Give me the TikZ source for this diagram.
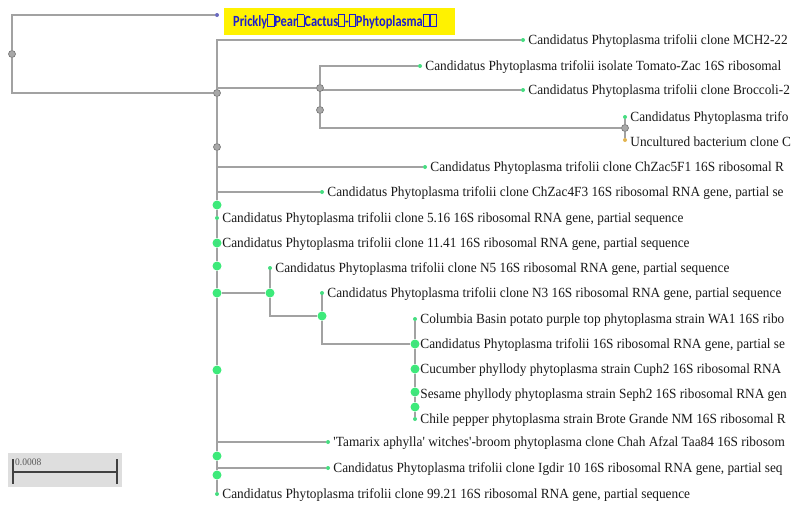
\documentclass[tikz,border=0pt]{standalone}
\usepackage{fontspec}
\setmainfont{Liberation Serif}[FakeStretch=0.95]
\newfontfamily\boxfont{Carlito}[FakeStretch=0.8]
\usetikzlibrary{backgrounds}
\definecolor{branchgrey}{HTML}{A2A2A2}
\definecolor{nodegrey}{HTML}{A8A8A8}
\definecolor{leafgreen}{HTML}{45DD80}
\definecolor{nodegreen}{HTML}{3DEA7A}
\definecolor{cactusblue}{HTML}{1E1ECF}
\definecolor{dotblue}{HTML}{6A6ABF}
\definecolor{dotorange}{HTML}{E2B450}
\definecolor{bargrey}{HTML}{DEDEDE}
\newcommand{\tofu}{{\fboxsep=0pt\fboxrule=0.7pt\fbox{\rule{0pt}{0.72em}\hspace{0.36em}}}}
\tikzset{
    branch/.style={draw=branchgrey,line width=1.8pt},
    gnode/.style={circle,draw=black!55,fill=nodegrey,line width=0.6pt,inner sep=0pt,minimum size=7pt},
    cnode/.style={circle,fill=nodegreen,inner sep=0pt,minimum size=9pt},
    leafdot/.style={circle,fill=leafgreen,inner sep=0pt,minimum size=4pt},
    leaf/.style={anchor=west,inner sep=0pt,yshift=-1.5pt,text=black!90,font=\fontsize{14}{14}\selectfont},
}
\begin{document}
\begin{tikzpicture}[x=1pt,y=-1pt]
        \clip (0,0) rectangle (793,504);
        %% Internal nodes
        \node[gnode] (r)  at (12,54)   {};
        \node[gnode] (m1) at (217,93)  {};
        \node[gnode] (nA) at (320,88)  {};
        \node[gnode] (nB) at (320,110) {};
        \node[gnode] (nC) at (625,128) {};
        \node[gnode] (m2) at (217,147) {};
        \node[cnode] (m3) at (217,205) {};
        \node[cnode] (m4) at (217,243) {};
        \node[cnode] (m5) at (217,266) {};
        \node[cnode] (m6) at (217,293) {};
        \node[cnode] (p1) at (270,293) {};
        \node[cnode] (p2) at (322,316) {};
        \node[cnode] (q1) at (415,344) {};
        \node[cnode] (q2) at (415,369) {};
        \node[cnode] (q3) at (415,392) {};
        \node[cnode] (q4) at (415,407) {};
        \node[cnode] (m7) at (217,370) {};
        \node[cnode] (m8) at (217,456) {};
        \node[cnode] (m9) at (217,475) {};
        %% Leaves
        \node[leafdot,fill=dotblue] (l0) at (217,15) {};
        \node[leafdot] (l1)  at (523,40)  {};
        \node[leafdot] (l2)  at (420,66)  {};
        \node[leafdot] (l3)  at (523,90)  {};
        \node[leafdot] (l4)  at (625,117) {};
        \node[leafdot,fill=dotorange] (l5) at (625,140) {};
        \node[leafdot] (l6)  at (425,167) {};
        \node[leafdot] (l7)  at (322,192) {};
        \node[leafdot] (l8)  at (217,218) {};
        \node[leafdot] (l9)  at (217,243) {};
        \node[leafdot] (l10) at (270,268) {};
        \node[leafdot] (l11) at (322,293) {};
        \node[leafdot] (l12) at (415,319) {};
        \node[leafdot] (l13) at (415,344) {};
        \node[leafdot] (l14) at (415,369) {};
        \node[leafdot] (l15) at (415,394) {};
        \node[leafdot] (l16) at (415,419) {};
        \node[leafdot] (l17) at (328,442) {};
        \node[leafdot] (l18) at (328,468) {};
        \node[leafdot] (l19) at (217,494) {};
        %% Branches
        \begin{scope}[on background layer]
            \draw[branch] (r) |- (l0);
            \draw[branch] (r) |- (m1);
            \draw[branch] (m1) |- (l1);
            \draw[branch] (m1) |- (nA);
            \draw[branch] (nA) |- (l2);
            \draw[branch] (nA) -- (nB);
            \draw[branch] (nB) |- (l3);
            \draw[branch] (nB) |- (nC);
            \draw[branch] (nC) -- (l4);
            \draw[branch] (nC) -- (l5);
            \draw[branch] (m1) -- (m2) -- (m3) -- (l8) -- (m4) -- (m5) -- (m6)
                -- (m7) -- (m8) -- (m9) -- (l19);
            \draw[branch] (m2) |- (l6);
            \draw[branch] (m3) |- (l7);
            \draw[branch] (m6) -- (p1);
            \draw[branch] (p1) |- (l10);
            \draw[branch] (p1) |- (p2);
            \draw[branch] (p2) |- (l11);
            \draw[branch] (p2) |- (q1);
            \draw[branch] (l12) -- (q1) -- (q2) -- (q3) -- (q4) -- (l16);
            \draw[branch] (m8) |- (l17);
            \draw[branch] (m9) |- (l18);
        \end{scope}
        %% Labels
        \node[anchor=west,fill=yellow,inner xsep=9pt,inner ysep=0pt,minimum height=27pt,
              text width=213pt,align=left,text=cactusblue,
              font=\boxfont\bfseries\fontsize{15.5}{15.5}\selectfont] (t0) at (224,21.5)
              {Prickly\tofu Pear\tofu Cactus\tofu-\tofu Phytoplasma\tofu\tofu};
        \node[leaf] (t1)  at ([xshift=3pt]l1.east)  {Candidatus Phytoplasma trifolii clone MCH2-22};
        \node[leaf] (t2)  at ([xshift=3pt]l2.east)  {Candidatus Phytoplasma trifolii isolate Tomato-Zac 16S ribosomal};
        \node[leaf] (t3)  at ([xshift=3pt]l3.east)  {Candidatus Phytoplasma trifolii clone Broccoli-2};
        \node[leaf] (t4)  at ([xshift=3pt]l4.east)  {Candidatus Phytoplasma trifo};
        \node[leaf] (t5)  at ([xshift=3pt]l5.east)  {Uncultured bacterium clone C};
        \node[leaf] (t6)  at ([xshift=3pt]l6.east)  {Candidatus Phytoplasma trifolii clone ChZac5F1 16S ribosomal R};
        \node[leaf] (t7)  at ([xshift=3pt]l7.east)  {Candidatus Phytoplasma trifolii clone ChZac4F3 16S ribosomal RNA gene, partial se};
        \node[leaf] (t8)  at ([xshift=3pt]l8.east)  {Candidatus Phytoplasma trifolii clone 5.16 16S ribosomal RNA gene, partial sequence};
        \node[leaf] (t9)  at ([xshift=3pt]l9.east)  {Candidatus Phytoplasma trifolii clone 11.41 16S ribosomal RNA gene, partial sequence};
        \node[leaf] (t10) at ([xshift=3pt]l10.east) {Candidatus Phytoplasma trifolii clone N5 16S ribosomal RNA gene, partial sequence};
        \node[leaf] (t11) at ([xshift=3pt]l11.east) {Candidatus Phytoplasma trifolii clone N3 16S ribosomal RNA gene, partial sequence};
        \node[leaf] (t12) at ([xshift=3pt]l12.east) {Columbia Basin potato purple top phytoplasma strain WA1 16S ribo};
        \node[leaf] (t13) at ([xshift=3pt]l13.east) {Candidatus Phytoplasma trifolii 16S ribosomal RNA gene, partial se};
        \node[leaf] (t14) at ([xshift=3pt]l14.east) {Cucumber phyllody phytoplasma strain Cuph2 16S ribosomal RNA};
        \node[leaf] (t15) at ([xshift=3pt]l15.east) {Sesame phyllody phytoplasma strain Seph2 16S ribosomal RNA gen};
        \node[leaf] (t16) at ([xshift=3pt]l16.east) {Chile pepper phytoplasma strain Brote Grande NM 16S ribosomal R};
        \node[leaf] (t17) at ([xshift=3pt]l17.east) {\textquotesingle Tamarix aphylla\textquotesingle{} witches\textquotesingle-broom phytoplasma clone Chah Afzal Taa84 16S ribosom};
        \node[leaf] (t18) at ([xshift=3pt]l18.east) {Candidatus Phytoplasma trifolii clone Igdir 10 16S ribosomal RNA gene, partial seq};
        \node[leaf] (t19) at ([xshift=3pt]l19.east) {Candidatus Phytoplasma trifolii clone 99.21 16S ribosomal RNA gene, partial sequence};
        %% Scale bar
        \fill[bargrey] (8,453) rectangle (122,487);
        \coordinate (sbl) at (13,472);
        \coordinate (sbr) at (117,472);
        \draw[line width=1.6pt,black!75] (sbl) -- (sbr);
        \draw[line width=1.6pt,black!75] ([yshift=13pt]sbl) -- ([yshift=-12pt]sbl);
        \draw[line width=1.6pt,black!75] ([yshift=13pt]sbr) -- ([yshift=-12pt]sbr);
        \node[anchor=west,inner sep=0pt,text=black!65,font=\fontsize{10}{10}\selectfont] (sbt) at (15,462) {0.0008};
    \end{tikzpicture}
\end{document}
